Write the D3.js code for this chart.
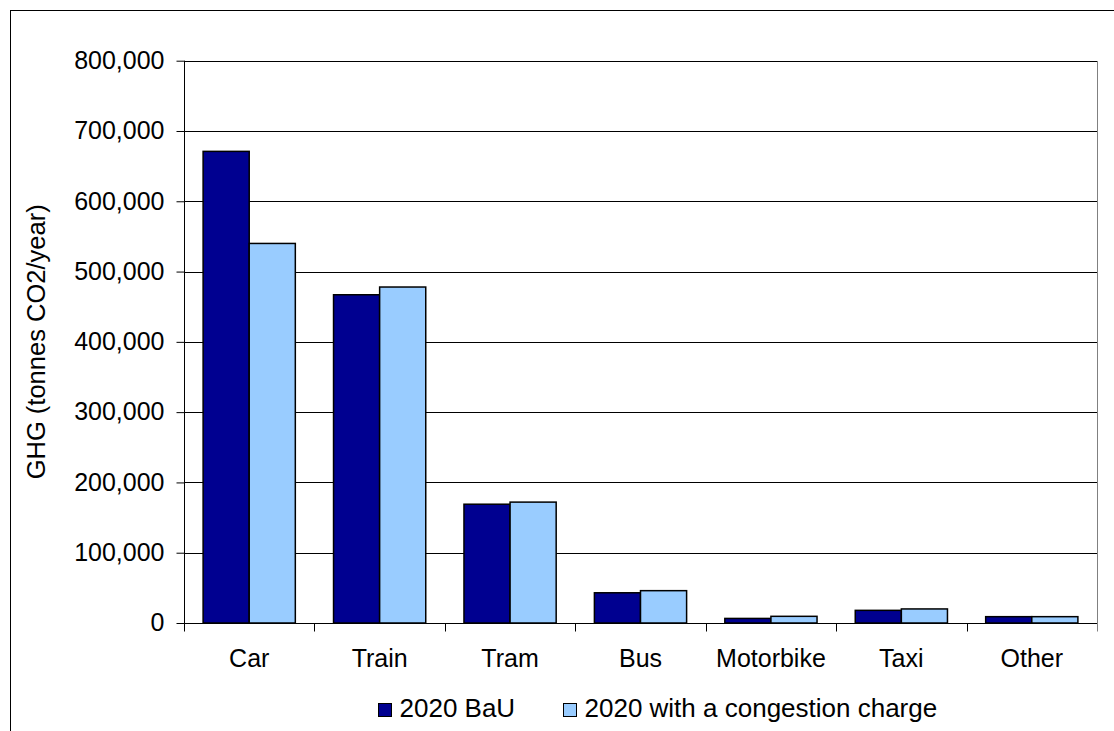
<!DOCTYPE html>
<html>
<head>
<meta charset="utf-8">
<script src="https://cdn.jsdelivr.net/npm/d3@7"></script>
<style>
  html, body { margin: 0; padding: 0; background: #fff; }
  svg { display: block; font-family: "Liberation Sans", Arial, sans-serif; }
</style>
</head>
<body>
<svg id="chart" width="1114" height="731"></svg>
<script>
// Transport modes on the category axis
const categories = ["Car", "Train", "Tram", "Bus", "Motorbike", "Taxi", "Other"];

// Series names as shown in the legend
const seriesNames = ["2020 BaU", "2020 with a congestion charge"];

// GHG emissions, tonnes CO2 per year
const bauValues = [671000, 467000, 169000, 43000, 6500, 18000, 9000];
const chargeValues = [540000, 478000, 172000, 46000, 9500, 20000, 9000];

// Value axis ticks
const yTicks = [0, 100000, 200000, 300000, 400000, 500000, 600000, 700000, 800000];

const colors = ["#000090", "#99ccff"];
const seriesValues = [bauValues, chargeValues];

const svg = d3.select("#chart");

// Chart area frame
svg.append("rect")
  .attr("x", 10.5).attr("y", 10.5)
  .attr("width", 1120).attr("height", 740)
  .attr("fill", "#fff").attr("stroke", "#000").attr("stroke-width", 1);

const plot = { left: 184, right: 1097, top: 60.7, bottom: 623 };

const x = d3.scaleBand()
  .domain(categories)
  .range([plot.left, plot.right])
  .paddingInner(0).paddingOuter(0);

const bw = x.bandwidth();
const xs = d3.scaleBand()
  .domain(d3.range(seriesNames.length))
  .range([bw * 0.1465, bw * 0.8535])
  .padding(0);

const y = d3.scaleLinear()
  .domain([0, 800000])
  .range([plot.bottom, plot.top]);

// Plot area border (grey)
svg.append("rect")
  .attr("x", plot.left + 0.5).attr("y", Math.round(plot.top) + 0.5)
  .attr("width", plot.right - plot.left).attr("height", plot.bottom - Math.round(plot.top))
  .attr("fill", "none").attr("stroke", "#808080").attr("stroke-width", 1);

// Horizontal gridlines
svg.append("g")
  .selectAll("line")
  .data(yTicks.filter(d => d > 0))
  .join("line")
  .attr("x1", plot.left).attr("x2", plot.right)
  .attr("y1", d => Math.round(y(d)) + 0.5)
  .attr("y2", d => Math.round(y(d)) + 0.5)
  .attr("stroke", "#000").attr("stroke-width", 1);

// Bars
const groups = svg.append("g")
  .selectAll("g")
  .data(categories)
  .join("g")
  .attr("transform", d => `translate(${x(d)},0)`);

groups.selectAll("rect")
  .data((d, i) => seriesValues.map((vals, s) => ({ s, v: vals[i] })))
  .join("rect")
  .attr("x", d => xs(d.s))
  .attr("width", xs.bandwidth())
  .attr("y", d => y(d.v))
  .attr("height", d => y(0) - y(d.v))
  .attr("fill", d => colors[d.s])
  .attr("stroke", "#000")
  .attr("stroke-width", 1.5);

// Value axis
const yAxis = d3.axisLeft(y)
  .tickValues(yTicks)
  .tickSize(8)
  .tickPadding(12)
  .tickFormat(d3.format(",.0f"));

const gy = svg.append("g")
  .attr("transform", `translate(${plot.left + 0.5},0)`)
  .call(yAxis);
gy.select(".domain").attr("stroke", "#000").attr("d", `M-0,${plot.top}V${plot.bottom}`);
gy.selectAll(".tick line").attr("stroke", "#000");
gy.selectAll(".tick text")
  .attr("font-size", 25)
  .attr("fill", "#000")
  .attr("font-family", "Liberation Sans, Arial, sans-serif")
  .attr("dy", "0.31em");

// Category axis
const xAxis = d3.axisBottom(x)
  .tickSize(0)
  .tickPadding(26);

const gx = svg.append("g")
  .attr("transform", `translate(0,${plot.bottom + 0.5})`)
  .call(xAxis);
gx.select(".domain").attr("stroke", "#000").attr("d", `M${plot.left},0H${plot.right}`);
gx.selectAll(".tick text")
  .attr("font-size", 25)
  .attr("fill", "#000")
  .attr("font-family", "Liberation Sans, Arial, sans-serif");

// Tick marks between categories
const boundaries = categories.map(c => x(c)).concat([plot.right]);
gx.append("g")
  .selectAll("line")
  .data(boundaries)
  .join("line")
  .attr("x1", d => Math.round(d) + 0.5).attr("x2", d => Math.round(d) + 0.5)
  .attr("y1", 0).attr("y2", 8)
  .attr("stroke", (d, i) => i === boundaries.length - 1 ? "#808080" : "#000");

// Value axis title
svg.append("text")
  .attr("transform", `translate(45,${(plot.top + plot.bottom) / 2}) rotate(-90)`)
  .attr("text-anchor", "middle")
  .attr("font-size", 25.5)
  .attr("fill", "#000")
  .text("GHG (tonnes CO2/year)");

// Legend
const legendItems = [
  { name: seriesNames[0], color: colors[0], x: 378.5 },
  { name: seriesNames[1], color: colors[1], x: 563.5 }
];
const legend = svg.append("g");
legend.selectAll("rect")
  .data(legendItems)
  .join("rect")
  .attr("x", d => d.x).attr("y", 703.5)
  .attr("width", 13).attr("height", 13)
  .attr("fill", d => d.color)
  .attr("stroke", "#000").attr("stroke-width", 1);
legend.selectAll("text")
  .data(legendItems)
  .join("text")
  .attr("x", d => d.x + 21)
  .attr("y", 716.5)
  .attr("font-size", 26)
  .attr("fill", "#000")
  .text(d => d.name);
</script>
</body>
</html>
